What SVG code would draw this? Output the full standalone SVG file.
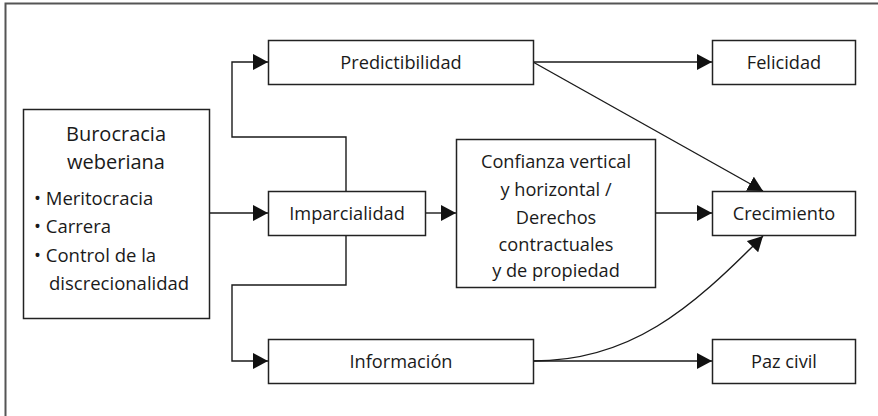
<svg xmlns="http://www.w3.org/2000/svg" width="878" height="416" viewBox="0 0 878 416">
<style>
.box{fill:#fff;stroke:#222;stroke-width:1.5}
.t{font-family:"Open Sans","Noto Sans",sans-serif;font-size:18.2px;fill:#1a1a1a;text-anchor:middle}
.h{font-size:20px}
.l{text-anchor:start;font-size:18.5px}
.c{fill:none;stroke:#1a1a1a;stroke-width:1.4}
</style>
<defs>
<marker id="ah" markerUnits="userSpaceOnUse" markerWidth="15" markerHeight="16" refX="15" refY="8" orient="auto" viewBox="0 0 15 16">
<path d="M0,0 L15,8 L0,16 z" fill="#111"/>
</marker>
</defs>
<rect x="5.5" y="3.5" width="900" height="500" fill="none" stroke="#555" stroke-width="2"/>
<g id="connectors">
<path class="c" d="M209,213 H268" marker-end="url(#ah)"/>
<path class="c" d="M346,192 V137 H232 V62 H268" marker-end="url(#ah)"/>
<path class="c" d="M346,235 V285 H232 V361 H268" marker-end="url(#ah)"/>
<path class="c" d="M426,213 H456" marker-end="url(#ah)"/>
<path class="c" d="M656,213 H712" marker-end="url(#ah)"/>
<path class="c" d="M533,62 H712" marker-end="url(#ah)"/>
<path class="c" d="M533,62 L763,191" marker-end="url(#ah)"/>
<path class="c" d="M533,361 H712" marker-end="url(#ah)"/>
<path class="c" d="M533,361 C630,361 690,310 763,236" marker-end="url(#ah)"/>
</g>
<g id="burocracia">
<rect class="box" x="23.5" y="109.5" width="186" height="209"/>
<text class="t h" x="116" y="141">Burocracia</text>
<text class="t h" x="116" y="169">weberiana</text>
<text class="t l" x="34" y="205">• Meritocracia</text>
<text class="t l" x="34" y="233">• Carrera</text>
<text class="t l" x="34" y="262">• Control de la</text>
<text class="t l" x="49" y="290">discrecionalidad</text>
</g>
<g id="predictibilidad">
<rect class="box" x="268.5" y="40.5" width="265" height="44"/>
<text class="t" x="401" y="69">Predictibilidad</text>
</g>
<g id="imparcialidad">
<rect class="box" x="268.5" y="191.5" width="157" height="44"/>
<text class="t" x="347" y="220">Imparcialidad</text>
</g>
<g id="informacion">
<rect class="box" x="268.5" y="339.5" width="265" height="44"/>
<text class="t" x="401" y="368">Información</text>
</g>
<g id="confianza">
<rect class="box" x="456.5" y="139.5" width="199" height="148"/>
<text class="t" x="556" y="168">Confianza vertical</text>
<text class="t" x="556" y="196">y horizontal /</text>
<text class="t" x="556" y="224">Derechos</text>
<text class="t" x="556" y="251">contractuales</text>
<text class="t" x="556" y="277">y de propiedad</text>
</g>
<g id="felicidad">
<rect class="box" x="712.5" y="40.5" width="143" height="44"/>
<text class="t" x="784" y="69">Felicidad</text>
</g>
<g id="crecimiento">
<rect class="box" x="712.5" y="191.5" width="143" height="44"/>
<text class="t" x="784" y="220">Crecimiento</text>
</g>
<g id="paz">
<rect class="box" x="712.5" y="339.5" width="143" height="44"/>
<text class="t" x="784" y="368">Paz civil</text>
</g>
</svg>
